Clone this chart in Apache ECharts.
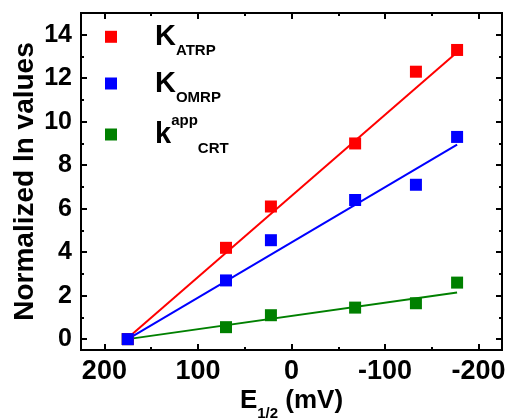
<!DOCTYPE html>
<html><head><meta charset="utf-8">
<script src="https://cdn.jsdelivr.net/npm/echarts@6/dist/echarts.min.js"></script>
<style>html,body{margin:0;padding:0;background:#fff}#c{width:509px;height:419px}</style>
</head><body><div id="c"></div>
<script>
const xValues = [175, 70, 22, -68, -133, -177];
const atrpValues = [0, 4.2, 6.1, 9.0, 12.3, 13.3];
const omrpValues = [0, 2.7, 4.55, 6.4, 7.1, 9.3];
const crtValues = [0, 0.55, 1.1, 1.45, 1.65, 2.6];
const fitX = [175, -177];
const atrpFit = [0.05, 13.2];
const omrpFit = [0, 8.95];
const crtFit = [0, 2.14];
const xMajorTicks = [200, 100, 0, -100, -200];
const xMinorTicks = [150, 50, -50, -150];
const yMajorTicks = [0, 2, 4, 6, 8, 10, 12, 14];
const yMinorTicks = [1, 3, 5, 7, 9, 11, 13];
const seriesNames = ['K_ATRP', 'K_OMRP', 'k_app_CRT'];
const colors = ['#ff0000', '#0000ff', '#008000'];

const FONT = '"Liberation Sans", Arial, sans-serif';
const pairs = (xs, ys) => xs.map((x, i) => [x, ys[i]]);

const gridRect = {left: 81, top: 13, width: 421, height: 337, outerBoundsMode: 'none', containLabel: false};
const lineW = 2;

function xAx(grid, pos, ticks, len, labels, extra) {
  return Object.assign({
    gridIndex: grid, type: 'value', position: pos, inverse: true, min: -225, max: 225,
    axisLine: {show: true, onZero: false, lineStyle: {color: '#000', width: lineW}},
    axisTick: {show: true, inside: true, length: len, customValues: ticks, lineStyle: {color: '#000', width: lineW}},
    axisLabel: labels ? {show: true, customValues: ticks, fontSize: 27, fontWeight: 'bold', fontFamily: FONT, color: '#000', margin: 8} : {show: false},
    splitLine: {show: false}
  }, extra || {});
}
function yAx(grid, pos, ticks, len, labels, extra) {
  return Object.assign({
    gridIndex: grid, type: 'value', position: pos, min: -0.5, max: 15,
    axisLine: {show: true, onZero: false, lineStyle: {color: '#000', width: lineW}},
    axisTick: {show: true, inside: true, length: len, customValues: ticks, lineStyle: {color: '#000', width: lineW}},
    axisLabel: labels ? {show: true, customValues: ticks, fontSize: 25, fontWeight: 'bold', fontFamily: FONT, color: '#000', margin: 9} : {show: false},
    splitLine: {show: false}
  }, extra || {});
}

const legendText = {
  'K_ATRP': '{sp| }{big|K}{sub|ATRP}',
  'K_OMRP': '{sp| }{big|K}{sub|OMRP}',
  'k_app_CRT': '{sp| }{big|k}{sup|app}{sub2|CRT}'
};
const rich = {
  sp: {width: 33, fontSize: 10},
  big: {fontSize: 29, fontWeight: 'bold', fontFamily: FONT, color: '#000', lineHeight: 32, verticalAlign: 'middle'},
  sub: {fontSize: 15, fontWeight: 'bold', fontFamily: FONT, color: '#000', lineHeight: 16, padding: [29, 0, 0, 0], verticalAlign: 'middle'},
  sup: {fontSize: 15, fontWeight: 'bold', fontFamily: FONT, color: '#000', lineHeight: 16, padding: [0, 0, 28, 0], verticalAlign: 'middle'},
  sub2: {fontSize: 15, fontWeight: 'bold', fontFamily: FONT, color: '#000', lineHeight: 16, padding: [28, 0, 0, 0], verticalAlign: 'middle'}
};
const legendTops = [14.8, 61.5, 113];
const legends = seriesNames.map((n, i) => ({
  data: [n], left: 105, top: legendTops[i], padding: 0, orient: 'vertical',
  icon: 'rect', itemWidth: 12, itemHeight: 12, selectedMode: false,
  formatter: nm => legendText[nm],
  textStyle: {rich: rich}
}));

const option = {
  animation: false,
  backgroundColor: '#fff',
  textStyle: {fontFamily: FONT},
  grid: [Object.assign({}, gridRect), Object.assign({}, gridRect)],
  legend: legends,
  xAxis: [
    xAx(0, 'bottom', xMajorTicks, 6, true, {
      name: '{e|E}{s|1/2}{e| (mV)}', nameLocation: 'middle', nameGap: 36, nameMoveOverlap: false,
      nameTextStyle: {rich: {
        e: {fontSize: 26, fontWeight: 'bold', fontFamily: FONT, color: '#000', lineHeight: 30, verticalAlign: 'middle'},
        s: {fontSize: 15, fontWeight: 'bold', fontFamily: FONT, color: '#000', lineHeight: 16, padding: [26, 0, 0, 0], verticalAlign: 'middle'}
      }}
    }),
    xAx(0, 'top', xMajorTicks, 6, false),
    xAx(1, 'bottom', xMinorTicks, 3, false),
    xAx(1, 'top', xMinorTicks, 3, false)
  ],
  yAxis: [
    yAx(0, 'left', yMajorTicks, 6, true, {
      name: 'Normalized ln values', nameLocation: 'middle', nameGap: 42, nameMoveOverlap: false,
      nameTextStyle: {fontSize: 28, fontWeight: 'bold', fontFamily: FONT, color: '#000'}
    }),
    yAx(0, 'right', yMajorTicks, 6, false),
    yAx(1, 'left', yMinorTicks, 3, false),
    yAx(1, 'right', yMinorTicks, 3, false)
  ],
  series: [
    {type: 'line', name: 'fit1', data: pairs(fitX, atrpFit), symbol: 'none', lineStyle: {color: colors[0], width: 2}, silent: true, z: 2},
    {type: 'line', name: 'fit2', data: pairs(fitX, omrpFit), symbol: 'none', lineStyle: {color: colors[1], width: 2}, silent: true, z: 2},
    {type: 'line', name: 'fit3', data: pairs(fitX, crtFit), symbol: 'none', lineStyle: {color: colors[2], width: 2}, silent: true, z: 2},
    {type: 'scatter', name: seriesNames[2], data: pairs(xValues, crtValues), symbol: 'rect', symbolSize: 12, itemStyle: {color: colors[2], opacity: 1}, z: 3},
    {type: 'scatter', name: seriesNames[0], data: pairs(xValues, atrpValues), symbol: 'rect', symbolSize: 12, itemStyle: {color: colors[0], opacity: 1}, z: 4},
    {type: 'scatter', name: seriesNames[1], data: pairs(xValues, omrpValues), symbol: 'rect', symbolSize: 12, itemStyle: {color: colors[1], opacity: 1}, z: 5}
  ]
};
const chart = echarts.init(document.getElementById('c'), null, {renderer: 'canvas'});
chart.setOption(option);
</script>
</body></html>
